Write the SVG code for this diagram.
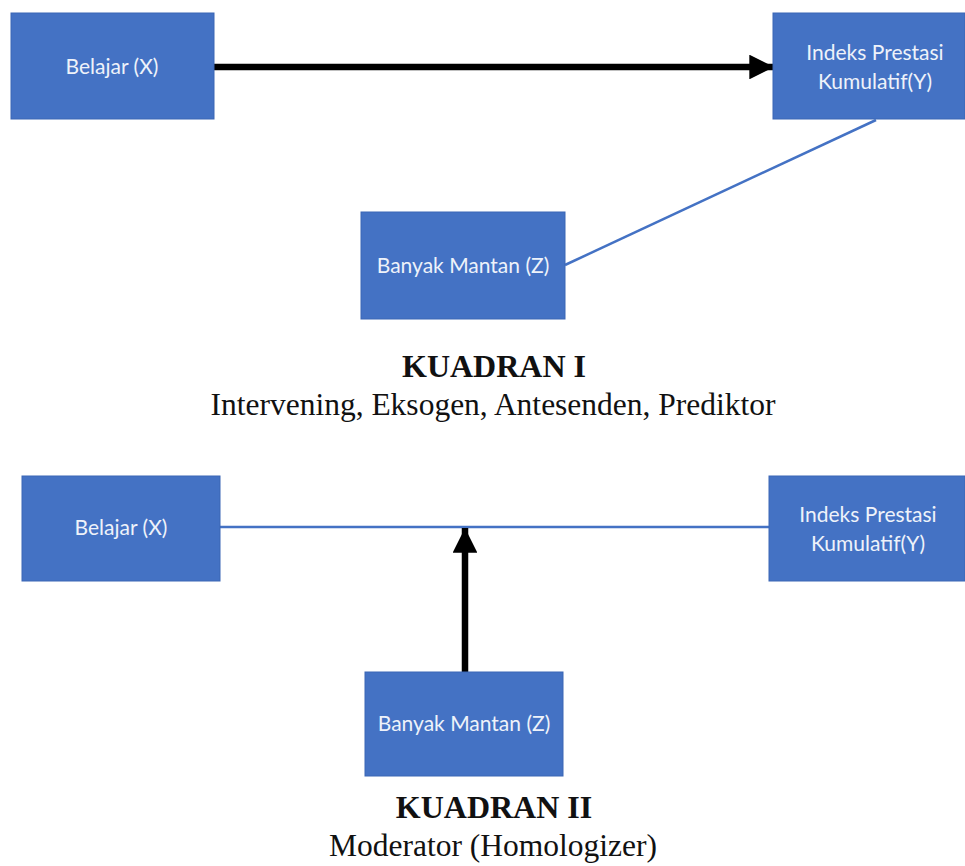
<svg xmlns="http://www.w3.org/2000/svg" width="965" height="866" viewBox="0 0 965 866">
  <defs>
    <style>
      .box { fill: #4472C4; stroke: #3A66B5; stroke-width: 1; }
      .lbl { font-family: "Lato", "Open Sans", "Liberation Sans", sans-serif; font-size: 21px; fill: #EEF2FA; text-anchor: middle; }
      .head { font-family: "Liberation Serif", "Times New Roman", serif; font-size: 32px; font-weight: bold; fill: #111; text-anchor: middle; }
      .sub { font-family: "Liberation Serif", "Times New Roman", serif; font-size: 31.5px; fill: #111; text-anchor: middle; }
      .thick { stroke: #000; stroke-width: 6.5; fill: none; }
      .thin { stroke: #4472C4; stroke-width: 2.5; fill: none; }
    </style>
    <marker id="arrow" viewBox="0 0 10 10" refX="10" refY="5" markerWidth="3.8" markerHeight="3.8" markerUnits="strokeWidth" orient="auto">
      <path d="M0,0 L10,5 L0,10 Z" fill="#000"/>
    </marker>
  </defs>

  <!-- connectors -->
  <g id="connectors">
    <line class="thick" x1="214" y1="67" x2="774" y2="67" marker-end="url(#arrow)"/>
    <line class="thin" x1="565" y1="265" x2="876" y2="120"/>
    <line class="thin" x1="220" y1="527" x2="769" y2="527"/>
    <line class="thick" x1="465" y1="672" x2="465" y2="528" marker-end="url(#arrow)"/>
  </g>

  <!-- Kuadran I -->
  <g id="q1-belajar">
    <rect class="box" x="11" y="13" width="203" height="106"/>
    <text class="lbl" x="112" y="74">Belajar (X)</text>
  </g>
  <g id="q1-ipk">
    <rect class="box" x="773" y="13" width="192" height="106"/>
    <text class="lbl" x="875" y="60">Indeks Prestasi</text>
    <text class="lbl" x="875" y="89">Kumulatif(Y)</text>
  </g>
  <g id="q1-mantan">
    <rect class="box" x="361" y="212" width="204" height="107"/>
    <text class="lbl" x="463" y="273">Banyak Mantan (Z)</text>
  </g>
  <g id="q1-caption">
    <text class="head" x="494" y="377">KUADRAN I</text>
    <text class="sub" x="493" y="415">Intervening, Eksogen, Antesenden, Prediktor</text>
  </g>

  <!-- Kuadran II -->
  <g id="q2-belajar">
    <rect class="box" x="22" y="476" width="198" height="105"/>
    <text class="lbl" x="121" y="535">Belajar (X)</text>
  </g>
  <g id="q2-ipk">
    <rect class="box" x="769" y="476" width="196" height="105"/>
    <text class="lbl" x="868" y="522">Indeks Prestasi</text>
    <text class="lbl" x="868" y="551">Kumulatif(Y)</text>
  </g>
  <g id="q2-mantan">
    <rect class="box" x="365" y="672" width="198" height="104"/>
    <text class="lbl" x="464" y="731">Banyak Mantan (Z)</text>
  </g>
  <g id="q2-caption">
    <text class="head" x="494" y="818">KUADRAN II</text>
    <text class="sub" x="493" y="856">Moderator (Homologizer)</text>
  </g>
</svg>
